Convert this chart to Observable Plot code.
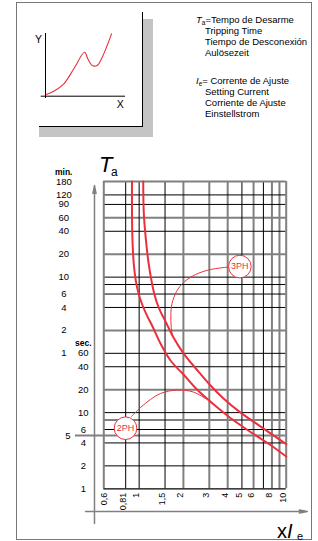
<!DOCTYPE html>
<html><head><meta charset="utf-8">
<script src="https://cdn.jsdelivr.net/npm/d3@7"></script>
<script src="https://cdn.jsdelivr.net/npm/@observablehq/plot@0.6"></script>
<style>
body{margin:0;background:#fff;font-family:"Liberation Sans",Arial,Helvetica,sans-serif;color:#000;}
#wrap{position:relative;width:318px;height:541px;overflow:hidden;background:#fff;}
#wrap > *{position:absolute;}
.t{white-space:nowrap;line-height:1;}
.s{font-size:0.68em;position:relative;top:0.28em;}
</style></head><body><div id="wrap"></div>
<script>
// ---- data (x = multiple of setting current Ie, t = tripping time in seconds) ----
const lowerX = [0.894, 0.894, 0.901, 0.918, 0.949, 0.995, 1.062, 1.140, 1.233, 1.397, 1.634, 2.003, 2.417, 2.962, 3.575, 4.314, 5.718, 7.82, 10];
const lowerT = [10800, 4100, 1814, 933, 540, 355, 247, 182, 135, 80.7, 48.3, 31.6, 21.0, 14.6, 10.8, 8.12, 5.57, 3.76, 2.65];
const upperX = [1.066, 1.076, 1.113, 1.158, 1.213, 1.252, 1.312, 1.397, 1.511, 1.712, 2.003, 2.494, 3.057, 3.747, 4.89, 6.38, 10];
const upperT = [10800, 4100, 1814, 933, 540, 400, 287, 212, 157, 97, 60, 35.7, 22.7, 15.3, 10, 7.0, 3.85];
const conn3X = [4.05, 3.057, 2.417, 2.003, 1.795, 1.673, 1.642, 1.654, 1.686];
const conn3T = [814, 755, 649, 510, 388, 270, 188, 131, 99.7];
const conn2X = [0.887, 1.022, 1.194, 1.397, 1.814, 2.343, 2.827];
const conn2T = [8.89, 11.67, 14.86, 17.8, 19.8, 18.6, 15.3];
const phaseLabels = ["3PH", "2PH"];
const phaseX = [4.84, 0.808];
const phaseT = [826, 6.24];

const minTickSecs = [10800, 7200, 5400, 3600, 2400, 1200, 600, 360, 240, 120, 60];
const minTickLabels = ["180", "120", "90", "60", "40", "20", "10", "6", "4", "2", "1"];
const secTickSecs = [60, 40, 20, 10, 6, 4, 2, 1];
const secTickLabels = ["60", "40", "20", "10", "6", "4", "2", "1"];
const fiveSec = [5];
const fiveSecLabel = ["5"];
const xTickVals = [0.6, 0.81, 1, 1.5, 2, 3, 4, 5, 6, 8, 10];
const xTickLabels = ["0,6", "0,81", "1", "1,5", "2", "3", "4", "5", "6", "8", "10"];
const gridXBlack = [0.81, 1, 1.5, 5, 7];
const gridXGray = [2, 3, 4, 6, 8, 9];
const gridYGray = [3600, 1200, 120, 20, 8];
const gridYBlack = [7200, 5400, 2400, 600, 480, 360, 240, 60, 40, 10, 6, 4, 2];
const xDomain = [0.575, 10];
const tDomain = [1, 10800];

// inset schematic curve (arbitrary units 0..100)
const insetX = [0.9, 10.4, 22.9, 35.4, 48.8, 52.9, 58.4, 64.6, 70.9, 77.1, 82.5];
const insetY = [2.7, 8, 19.8, 43.7, 70.2, 59.6, 49, 49, 62.2, 80.9, 99.5];

// ---- build tables ----
const lower = lowerX.map((x, i) => ({x, t: lowerT[i]}));
const upper = upperX.map((x, i) => ({x, t: upperT[i]}));
const conn3 = conn3X.map((x, i) => ({x, t: conn3T[i]}));
const conn2 = conn2X.map((x, i) => ({x, t: conn2T[i]}));
const phases = phaseLabels.map((label, i) => ({label, x: phaseX[i], t: phaseT[i]}));
const minTicks = minTickSecs.map((t, i) => ({t, label: minTickLabels[i]}));
const secTicks = secTickSecs.map((t, i) => ({t, label: secTickLabels[i]}));
const fiveTicks = fiveSec.map((t, i) => ({t, label: fiveSecLabel[i]}));
const xTicks = xTickVals.map((v, i) => ({v, label: xTickLabels[i]}));
const inset = insetX.map((x, i) => ({x, y: insetY[i]}));

const red = "#ec2f3c";
const gray = "#808080";
const font = "'Liberation Sans', Arial, Helvetica, sans-serif";
const wrap = document.getElementById("wrap");

// outer border
const border = document.createElement("div");
Object.assign(border.style, {left: "16px", top: "2px", width: "296px", height: "538px", border: "1px solid #777", boxSizing: "border-box"});
wrap.appendChild(border);

// inset panel with shadow
const shadow = document.createElement("div");
Object.assign(shadow.style, {left: "39px", top: "19px", width: "114px", height: "118px", background: "#c4c4c4"});
wrap.appendChild(shadow);
const panel = document.createElement("div");
Object.assign(panel.style, {left: "39px", top: "12px", width: "103.5px", height: "115px", background: "#fff", borderRight: "1.5px solid #000", borderBottom: "1.5px solid #000", boxSizing: "border-box"});
wrap.appendChild(panel);

const insetPlot = Plot.plot({
  width: 160, height: 145,
  marginLeft: 45, marginRight: 35, marginTop: 33, marginBottom: 49.3,
  x: {domain: [0, 100], axis: null},
  y: {domain: [0, 100], axis: null},
  style: {background: "transparent", fontFamily: font, overflow: "visible"},
  marks: [
    Plot.ruleY([0], {x1: -5.4, x2: 100, stroke: "#000", strokeWidth: 1}),
    Plot.ruleX([0], {y1: -3.7, y2: 100, stroke: "#000", strokeWidth: 1}),
    Plot.line(inset, {x: "x", y: "y", stroke: red, strokeWidth: 1.1, curve: "catmull-rom"}),
    Plot.text(["Y"], {x: -8.8, y: 91, text: d => d, fontSize: 10.5}),
    Plot.text(["X"], {x: 93.5, y: -12.8, text: d => d, fontSize: 10.5})
  ]
});
Object.assign(insetPlot.style, {position: "absolute", left: "0px", top: "0px"});
wrap.appendChild(insetPlot);

// main chart
const main = Plot.plot({
  width: 318, height: 541,
  marginLeft: 103.3, marginRight: 32.3, marginTop: 181, marginBottom: 52.7,
  x: {type: "log", domain: xDomain, axis: null},
  y: {type: "log", domain: tDomain, axis: null},
  style: {background: "transparent", fontFamily: font, overflow: "visible"},
  marks: [
    Plot.ruleX(gridXGray, {stroke: gray, strokeWidth: 2}),
    Plot.ruleY(gridYGray, {stroke: gray, strokeWidth: 2}),
    Plot.ruleY(fiveSec, {x1: 0.369, x2: 10, stroke: gray, strokeWidth: 2}),
    Plot.ruleX(gridXBlack, {stroke: "#000", strokeWidth: 1}),
    Plot.ruleY(gridYBlack, {stroke: "#000", strokeWidth: 1}),
    Plot.ruleX([xDomain[0], xDomain[1]], {stroke: gray, strokeWidth: 2}),
    Plot.ruleY([tDomain[1]], {stroke: gray, strokeWidth: 2}),
    Plot.ruleY([tDomain[0]], {stroke: "#000", strokeWidth: 1.3}),
    // axis arrows
    Plot.arrow([{x1: 0.497, y1: 0.35, x2: 0.497, y2: 9550}], {x1: "x1", y1: "y1", x2: "x2", y2: "y2", stroke: gray, strokeWidth: 1.5, headLength: 8, headAngle: 22}),
    Plot.arrow([{x1: 0.432, y1: 0.504, x2: 13.9, y2: 0.504}], {x1: "x1", y1: "y1", x2: "x2", y2: "y2", stroke: gray, strokeWidth: 1.5, headLength: 8, headAngle: 22}),
    // curves
    Plot.line(conn3, {x: "x", y: "t", stroke: red, strokeWidth: 1, curve: "catmull-rom"}),
    Plot.line(conn2, {x: "x", y: "t", stroke: red, strokeWidth: 1, curve: "catmull-rom"}),
    Plot.line(lower, {x: "x", y: "t", stroke: red, strokeWidth: 2, curve: "catmull-rom"}),
    Plot.line(upper, {x: "x", y: "t", stroke: red, strokeWidth: 2, curve: "catmull-rom"}),
    Plot.dot(phases, {x: "x", y: "t", r: 11.3, fill: "#fff", stroke: red, strokeWidth: 1}),
    Plot.text(phases, {x: "x", y: "t", text: "label", fill: red, fontSize: 9}),
    // tick labels
    Plot.text(minTicks, {y: "t", text: "label", frameAnchor: "left", dx: -40, textAnchor: "middle", fontSize: 9.5}),
    Plot.text(secTicks, {y: "t", text: "label", frameAnchor: "left", dx: -20.5, textAnchor: "middle", fontSize: 9.5}),
    Plot.text(fiveTicks, {y: "t", text: "label", frameAnchor: "left", dx: -36, textAnchor: "middle", fontSize: 9.5}),
    Plot.text(xTicks, {x: "v", text: "label", frameAnchor: "bottom", rotate: -90, textAnchor: "end", dy: 4, fontSize: 9})
  ]
});
Object.assign(main.style, {position: "absolute", left: "0px", top: "0px"});
wrap.appendChild(main);

// html text helper (baseline positioning)
function txt(html, left, baseline, size, extra = {}) {
  const d = document.createElement("div");
  d.className = "t";
  d.innerHTML = html;
  Object.assign(d.style, {left: left + "px", top: (baseline - 0.8465 * size) + "px", fontSize: size + "px"}, extra);
  wrap.appendChild(d);
  return d;
}
txt("min.", 55, 175, 8.5, {fontWeight: "bold"});
txt("sec.", 75, 346.5, 8.5, {fontWeight: "bold"});
txt("<i>T</i>", 99, 173, 22);
txt("a", 111, 176, 12);
txt("x<i>I</i>", 277, 538, 20);
txt("e", 297, 540, 11);

// legend
txt("<i>T</i><span class='s'>a</span>=Tempo de Desarme", 196, 23.5, 9.5);
txt("Tripping Time", 205, 34.5, 9.5);
txt("Tiempo de Desconexión", 205, 45.5, 9.5);
txt("Aulösezeit", 205, 56.5, 9.5);
txt("<i>I</i><span class='s'>e</span>= Corrente de Ajuste", 196, 84, 9.5);
txt("Setting Current", 205, 95, 9.5);
txt("Corriente de Ajuste", 205, 106, 9.5);
txt("Einstellstrom", 205, 117, 9.5);
</script>
</body></html>
